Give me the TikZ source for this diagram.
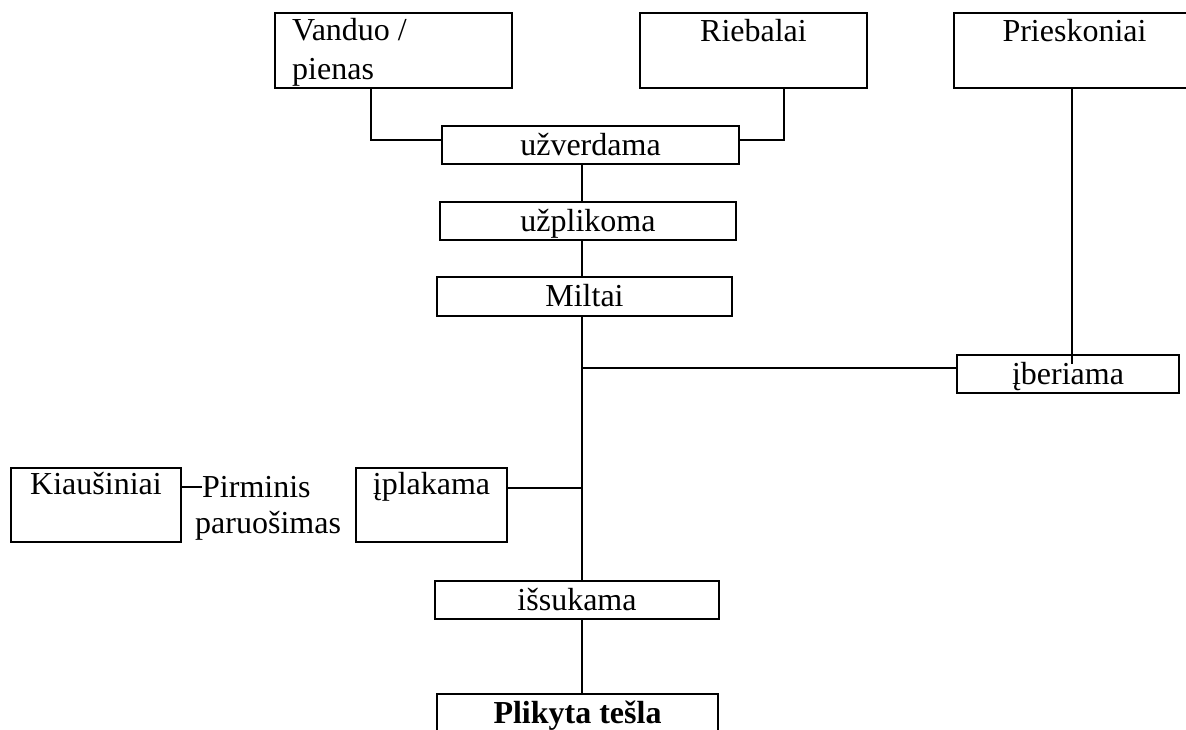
\documentclass[tikz,border=0pt]{standalone}
\usepackage{fontspec}
\setmainfont{Liberation Serif}
\usetikzlibrary{calc}

\tikzset{
  box/.style={draw, rectangle, line width=1.9pt, inner sep=0pt,
    font=\fontsize{32}{38}\selectfont, text height=20pt, text depth=0pt},
  lbl/.style={inner sep=0pt, font=\fontsize{32}{38}\selectfont},
  link/.style={line width=1.6pt}
}

\begin{document}
\begin{tikzpicture}[x=1pt,y=-1pt]
\useasboundingbox (0,0) rectangle (1186,729);

% ingredient boxes in the top row (text set at the top of each box)
\node[box, minimum width=237pt, minimum height=75pt] (van) at (393.5,50.5) {};
\node[box, minimum width=227pt, minimum height=75pt] (rie) at (753.5,50.5) {};
\node[box, minimum width=241pt, minimum height=75pt] (pri) at (1074.5,50.5) {};
\node[lbl, anchor=base west] (vant1) at (292,40) {Vanduo /};
\node[lbl, anchor=base west] (vant2) at (292,79) {pienas};
\node[lbl, anchor=base] (riet) at ([yshift=-29pt]rie.north) {Riebalai};
\node[lbl, anchor=base] (prit) at ([yshift=-29pt]pri.north) {Prieskoniai};

% process steps along the main line
\node[box, minimum width=297pt, minimum height=38pt] (uzv) at (590.5,145) {užverdama};
\node[box, minimum width=296pt, minimum height=38pt] (uzp) at (588,221) {užplikoma};
\node[box, minimum width=295pt, minimum height=39pt] (mil) at (584.5,296.5) {Miltai};
\node[box, minimum width=222pt, minimum height=38pt] (ibr) at (1068,374) {įberiama};
\node[box, minimum width=284pt, minimum height=38pt] (iss) at (577,600) {išsukama};

% eggs branch
\node[box, minimum width=170pt, minimum height=74pt] (kia) at (96,505) {};
\node[box, minimum width=151pt, minimum height=74pt] (ipl) at (431.5,505) {};
\node[lbl, anchor=base] (kiat) at ([yshift=-27pt]kia.north) {Kiaušiniai};
\node[lbl, anchor=base] (iplt) at ([yshift=-27pt]ipl.north) {įplakama};
\node[lbl, anchor=base west] (pir) at (202,497) {Pirminis};
\node[lbl, anchor=base west] (par) at (195,533) {paruošimas};

% final product
\node[box, minimum width=281pt, minimum height=66pt] (pli) at (577.5,727) {};
\node[lbl, anchor=base, font=\fontsize{32}{38}\selectfont\bfseries] (plit)
  at ([yshift=-30pt]pli.north) {Plikyta tešla};

% junctions on the main vertical line
\coordinate (spine) at (582,0);
\coordinate (j1) at (582,368);
\coordinate (j2) at (582,488);
\coordinate (kj) at ([yshift=18pt]kia.east);
\coordinate (pd) at ([xshift=-2.5pt]pri.south);

% connectors
\draw[link] ([xshift=-22.5pt]van.south) |- ([yshift=5pt]uzv.west);
\draw[link] ([xshift=30.5pt]rie.south) |- ([yshift=5pt]uzv.east);
\draw[link] (uzv.south -| spine) -- (uzp.north -| spine);
\draw[link] (uzp.south -| spine) -- (mil.north -| spine);
\draw[link] (mil.south -| spine) -- (iss.north -| spine);
\draw[link] (j1) -- (j1 -| ibr.west);
\draw[link] (pd) -- ($(pd |- ibr.north)+(0,10)$);
\draw[link] (ipl.east |- j2) -- (j2);
\draw[link] (kj) -- (kj -| pir.west);
\draw[link] (iss.south -| spine) -- (pli.north -| spine);
\end{tikzpicture}
\end{document}
